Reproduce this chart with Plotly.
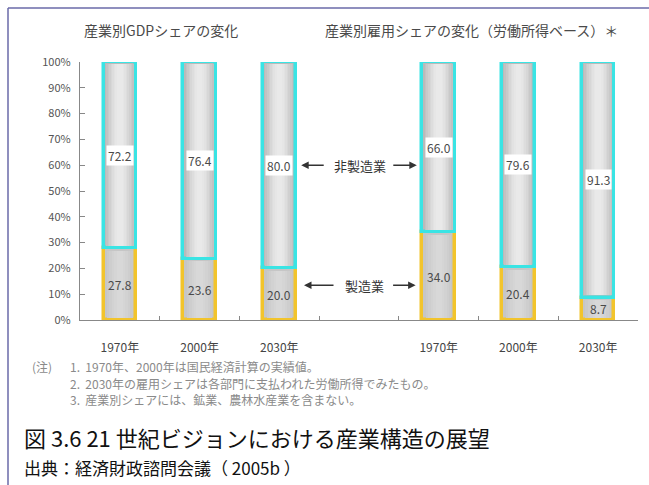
import plotly.graph_objects as go

# Share data (%), GDP share and employment (labour income) share by industry
years = ["1970年", "2000年", "2030年"]
gdp_manufacturing = [27.8, 23.6, 20.0]
gdp_non_manufacturing = [72.2, 76.4, 80.0]
emp_manufacturing = [34.0, 20.4, 8.7]
emp_non_manufacturing = [66.0, 79.6, 91.3]

y_tick_values = [0, 10, 20, 30, 40, 50, 60, 70, 80, 90, 100]
y_tick_labels = [f"{v}%" for v in y_tick_values]

title_gdp = "産業別GDPシェアの変化"
title_emp = "産業別雇用シェアの変化（労働所得ベース）＊"
label_non_mfg = "非製造業"
label_mfg = "製造業"
notes = [
    "1970年、2000年は国民経済計算の実績値。",
    "2030年の雇用シェアは各部門に支払われた労働所得でみたもの。",
    "産業別シェアには、鉱業、農林水産業を含まない。",
]
caption = "図 3.6 21 世紀ビジョンにおける産業構造の展望"
source = "出典：経済財政諮問会議（ 2005b ）"

# Layout geometry (pixels)
W, H = 649, 485
ML, MR, MT, MB = 80, 11, 62, 165
PW, PH = W - ML - MR, H - MT - MB


def px(x):
    return (x - ML) / PW


def py(y):
    return (H - MB - y) / PH


# GDP bars sit in slots 0-2, employment bars in slots 4-6 (slot 3 holds the arrows)
x_gdp = [0, 1, 2]
x_emp = [4, 5, 6]
x_all = x_gdp + x_emp
mfg = gdp_manufacturing + emp_manufacturing
non_mfg = gdp_non_manufacturing + emp_non_manufacturing

CYAN = "#3ae4e4"
GOLD = "#f2c42c"
TEXT = "#555555"
FONT = "Noto Sans CJK JP"
BAR_W = 0.41
INSET = 0.9  # keeps the shading layers inside the outlines

fig = go.Figure()
# Outlined segments: manufacturing at the bottom, non-manufacturing on top of it
fig.add_trace(go.Bar(
    x=x_all, y=mfg, base=[0] * len(mfg), width=BAR_W,
    marker=dict(color="#c6c6c6", line=dict(color=GOLD, width=3.5)),
    hoverinfo="skip", showlegend=False,
))
fig.add_trace(go.Bar(
    x=x_all, y=non_mfg, base=mfg, width=BAR_W,
    marker=dict(color="#bababa", line=dict(color=CYAN, width=3.5)),
    hoverinfo="skip", showlegend=False,
))

# Cylinder-like shading: narrower, lighter layers inside each segment
shade_mfg = [(0.32, "#cacaca"), (0.26, "#cecece"), (0.20, "#d2d2d2"),
             (0.14, "#d5d5d5"), (0.08, "#d8d8d8")]
shade_non = [(0.35, "#c2c2c2"), (0.31, "#c9c9c9"), (0.27, "#d0d0d0"),
             (0.23, "#d7d7d7"), (0.19, "#dddddd"), (0.15, "#e2e2e2"),
             (0.11, "#e6e6e6"), (0.07, "#e9e9e9")]
for w, c in shade_mfg:
    fig.add_trace(go.Bar(
        x=x_all, y=[m - 2 * INSET for m in mfg], base=[INSET] * len(mfg), width=w,
        marker=dict(color=c, line=dict(width=0)), hoverinfo="skip", showlegend=False,
    ))
for w, c in shade_non:
    fig.add_trace(go.Bar(
        x=x_all, y=[n - 2 * INSET for n in non_mfg], base=[m + INSET for m in mfg],
        width=w, marker=dict(color=c, line=dict(width=0)),
        hoverinfo="skip", showlegend=False,
    ))

annotations = []
# Value labels centred in each segment
for x, m, n in zip(x_all, mfg, non_mfg):
    annotations.append(dict(
        x=x, y=m / 2, xref="x", yref="y", text=f"{m:.1f}", showarrow=False,
        font=dict(family=FONT, size=12, color="#4a4a4a"),
    ))
    annotations.append(dict(
        x=x, y=m + n / 2, xref="x", yref="y", text=f"{n:.1f}", showarrow=False,
        font=dict(family=FONT, size=12, color="#4a4a4a"), bgcolor="white", borderpad=1,
    ))

# Category call-outs with arrows on both sides
arrow = dict(showarrow=True, arrowhead=2, arrowsize=1, arrowwidth=1.5,
             arrowcolor="#333333", text="", xref="x", yref="y", ay=0)
y_non = gdp_manufacturing[2] + gdp_non_manufacturing[2] / 2
y_mfg = 13.5
annotations += [
    dict(x=3.01, y=y_non, xref="x", yref="y", text=label_non_mfg, showarrow=False,
         font=dict(family=FONT, size=13, color="#333333")),
    dict(arrow, x=2.275, y=y_non, ax=24),
    dict(arrow, x=3.725, y=y_non, ax=-25),
    dict(x=3.07, y=y_mfg, xref="x", yref="y", text=label_mfg, showarrow=False,
         font=dict(family=FONT, size=13, color="#333333")),
    dict(arrow, x=2.31, y=y_mfg, ax=31),
    dict(arrow, x=3.71, y=y_mfg, ax=-24),
]


def paper_text(x, y, text, font, xanchor="center"):
    return dict(x=px(x), y=py(y), xref="paper", yref="paper", text=text,
                xanchor=xanchor, yanchor="middle", showarrow=False, font=font)


# Panel titles
title_font = dict(family=FONT, size=14, color="#4a4a4a")
annotations += [
    paper_text(161, 30, title_gdp, title_font),
    paper_text(471, 30, title_emp, title_font),
]

# Notes
note_font = dict(family=FONT, size=12, color="#8a8a8a")
note_rows = [367, 383, 399]
annotations.append(paper_text(30, note_rows[0], "(注)", note_font, "left"))
for i, (ny, line) in enumerate(zip(note_rows, notes)):
    annotations.append(paper_text(68, ny, f"{i + 1}.  {line}", note_font, "left"))

# Caption and source
annotations += [
    paper_text(22, 437, caption, dict(family=FONT, size=22, color="#111111"), "left"),
    paper_text(22, 467, source, dict(family=FONT, size=17, color="#111111"), "left"),
]

# Frame lines along the top and left edges
shapes = [
    dict(type="line", xref="paper", yref="paper", x0=px(8), x1=px(W + 2),
         y0=py(8), y1=py(8), line=dict(color="#6a6aa8", width=1.5)),
    dict(type="line", xref="paper", yref="paper", x0=px(8), x1=px(8),
         y0=py(8), y1=py(H + 2), line=dict(color="#6a6aa8", width=1.5)),
]

fig.update_layout(
    width=W, height=H,
    margin=dict(l=ML, r=MR, t=MT, b=MB),
    paper_bgcolor="white", plot_bgcolor="white",
    barmode="overlay", bargap=0,
    annotations=annotations, shapes=shapes,
    xaxis=dict(
        range=[-0.5, 6.5], tickvals=x_all, ticktext=years + years,
        ticks="", showline=True, linecolor="#888888", linewidth=1.2,
        showgrid=False, zeroline=False, ticklabelstandoff=16,
        tickfont=dict(family=FONT, size=12, color="#444444"),
    ),
    xaxis2=dict(
        overlaying="x", matches="x", range=[-0.5, 6.5],
        tickvals=[0.5, 1.5, 2.5, 3.5, 4.5, 5.5, 6.5], ticktext=[""] * 7,
        ticks="inside", ticklen=4, tickcolor="#888888", showline=False,
        showgrid=False, zeroline=False, showticklabels=False,
    ),
    yaxis=dict(
        range=[0, 100], tickvals=y_tick_values, ticktext=y_tick_labels,
        ticks="inside", ticklen=5, tickcolor="#888888",
        showline=True, linecolor="#888888", linewidth=1.2,
        showgrid=False, zeroline=False, ticklabelstandoff=6,
        tickfont=dict(family=FONT, size=11, color=TEXT),
    ),
)

# Empty trace so the boundary tick axis is drawn
fig.add_trace(go.Scatter(x=[None], y=[None], xaxis="x2", showlegend=False, hoverinfo="skip"))

fig.write_html("out.html")
